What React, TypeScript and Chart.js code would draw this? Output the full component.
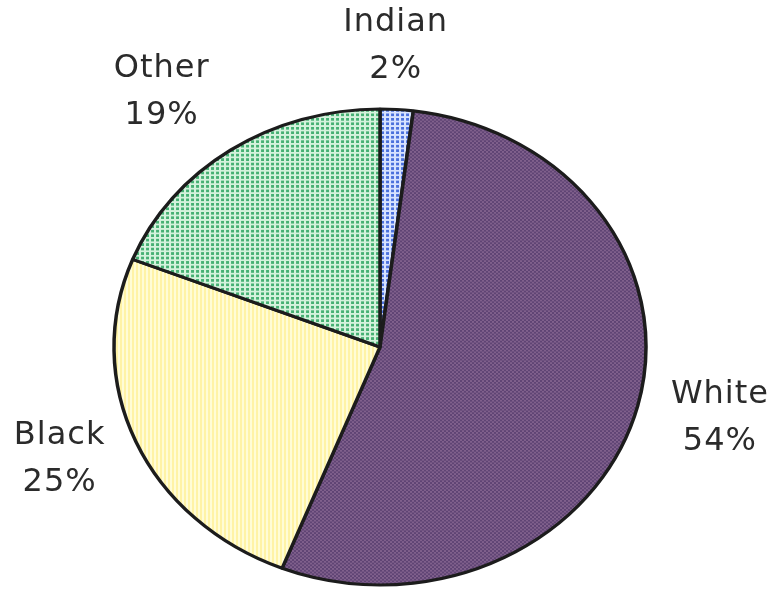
import React, { useEffect, useRef } from "react";
import { Chart, registerables } from "chart.js";

Chart.register(...registerables);

const categories = ["Indian", "White", "Black", "Other"];
const values = [2, 54, 25, 19];
const percentLabels = ["2%", "54%", "25%", "19%"];

// label nudges relative to the radial anchor (px)
const nudgeX = [-6, 5, -3, -24];
const nudgeY = [-4, -3, -6, -9];

const RX = 266;
const RY = 238;

function makePattern(bg: string, fg: string, kind: string): CanvasPattern | string {
  const c = document.createElement("canvas");
  const size = kind === "dots" ? 5 : 4;
  c.width = size;
  c.height = size;
  const g = c.getContext("2d");
  if (!g) return bg;
  g.fillStyle = bg;
  g.fillRect(0, 0, size, size);
  g.fillStyle = fg;
  if (kind === "dots") {
    g.fillRect(1, 1, 3, 3);
  } else if (kind === "checker") {
    g.fillRect(0, 0, 2, 2);
    g.fillRect(2, 2, 2, 2);
  } else if (kind === "stripes") {
    g.fillRect(0, 0, 2, size);
  }
  const p = g.createPattern(c, "repeat");
  return p || bg;
}

export default function App() {
  const ref = useRef<HTMLCanvasElement | null>(null);

  useEffect(() => {
    if (!ref.current) return;
    const colors = [
      makePattern("#d6e2ff", "#4a70dc", "dots"),
      makePattern("#80608c", "#5f4474", "checker"),
      makePattern("#fffcd6", "#fff3a6", "stripes"),
      makePattern("#d4f2dc", "#46b073", "dots"),
    ];

    const squash = {
      id: "squash",
      beforeDatasetsDraw(chart: any) {
        const arc = chart.getDatasetMeta(0).data[0];
        const ctx = chart.ctx;
        ctx.save();
        ctx.translate(arc.x, arc.y);
        ctx.scale(1, RY / RX);
        ctx.translate(-arc.x, -arc.y);
      },
      afterDatasetsDraw(chart: any) {
        chart.ctx.restore();
      },
    };

    const labelsPlugin = {
      id: "outerLabels",
      afterDraw(chart: any) {
        const ctx = chart.ctx;
        const meta = chart.getDatasetMeta(0);
        ctx.save();
        ctx.font = "32px 'DejaVu Sans'";
        ctx.fillStyle = "#2b2b2b";
        ctx.textAlign = "center";
        ctx.textBaseline = "middle";
        try { (ctx as any).letterSpacing = "1px"; } catch (e) {}
        meta.data.forEach((arc: any, i: number) => {
          const mid = (arc.startAngle + arc.endAngle) / 2;
          const r = arc.outerRadius;
          const x = arc.x + r * 1.3 * Math.cos(mid) + nudgeX[i];
          const y = arc.y + r * (RY / RX) * 1.25 * Math.sin(mid) + nudgeY[i];
          ctx.fillText(categories[i], x, y - 23.5);
          ctx.fillText(percentLabels[i], x, y + 23.5);
        });
        ctx.restore();
      },
    };

    const chart = new Chart(ref.current, {
      type: "pie",
      data: {
        labels: categories,
        datasets: [
          {
            data: values,
            backgroundColor: colors as any,
            borderColor: "#1c1c1c",
            borderWidth: 3.5,
            radius: RX,
            clip: false as any,
          } as any,
        ],
      },
      options: {
        responsive: false,
        animation: false,
        layout: { padding: { left: 0, right: 15, top: 104, bottom: 0 } },
        plugins: {
          legend: { display: false },
          tooltip: { enabled: false },
        },
      },
      plugins: [squash, labelsPlugin],
    });
    return () => chart.destroy();
  }, []);

  return (
    <div style={{ position: "absolute", left: 0, top: 0, width: 775, height: 590, background: "#fff" }}>
      <canvas ref={ref} width={775} height={590} />
    </div>
  );
}
